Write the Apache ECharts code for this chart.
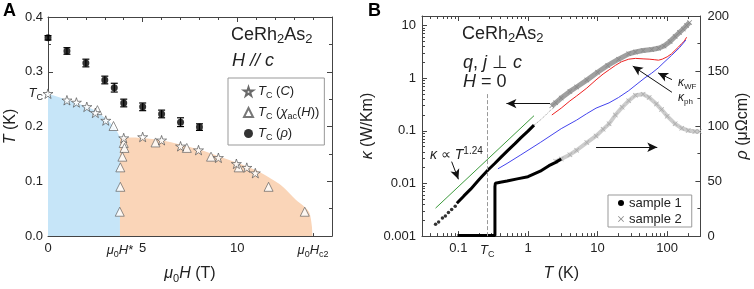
<!DOCTYPE html>
<html>
<head>
<meta charset="utf-8">
<script src="https://cdn.jsdelivr.net/npm/echarts@6/dist/echarts.min.js"></script>
<style>
  html, body { margin: 0; padding: 0; background: #fff; }
  #chart { width: 754px; height: 289px; }
</style>
</head>
<body>
<div id="chart"></div>
<script>
var FONT = '"Liberation Sans", Arial, Helvetica, sans-serif';
var INK = '#222';
var AXC = '#444';

// ---------- panel A : H-T phase diagram ----------
var fieldRho = [0, 1, 2, 3, 3.5, 4, 5, 6, 7, 8];
var tcRho = [0.362, 0.338, 0.316, 0.285, 0.271, 0.243, 0.236, 0.223, 0.208, 0.199];
var tcRhoErr = [0.004, 0.006, 0.007, 0.007, 0.008, 0.007, 0.007, 0.007, 0.008, 0.006];

var fieldC = [0, 1, 1.5, 2.05, 2.5, 3.05, 4.0, 5.0, 6.0, 7.0, 7.95, 9.0, 9.95, 10.5, 10.95];
var tcC = [0.26, 0.248, 0.244, 0.236, 0.225, 0.211, 0.179, 0.181, 0.175, 0.164, 0.157, 0.143, 0.132, 0.125, 0.115];

var fieldChi = [2.61, 3.46, 4.0, 4.04, 3.93, 3.82, 3.82, 3.79, 5.68, 7.33, 8.61, 10.07, 11.65, 13.56];
var tcChi = [0.230, 0.201, 0.170, 0.161, 0.145, 0.1255, 0.090, 0.0445, 0.171, 0.161, 0.145, 0.1255, 0.090, 0.0445];

var sc1Field = [0, 1, 2, 2.6, 3.1, 3.5, 3.8];
var sc1Top = [0.26, 0.249, 0.237, 0.227, 0.213, 0.199, 0.181];
var sc2Field = [3.8, 4.5, 5, 6, 7, 8, 9, 10, 11, 12, 12.4, 13.1, 13.5, 13.8, 13.93, 13.97];
var sc2Top = [0.179, 0.18, 0.179, 0.175, 0.167, 0.158, 0.146, 0.134, 0.12, 0.1, 0.09, 0.066, 0.055, 0.043, 0.02, 0];

var fieldLabelsA = [0, 3.8, 5, 10, 14];
var tempLabelsA = [0, 0.1, 0.2, 0.26, 0.3, 0.4];

// ---------- panel B : thermal conductivity & resistivity ----------
var s1DotsT = [0.047, 0.052, 0.059, 0.065, 0.072, 0.080, 0.090];
var s1DotsK = [0.00168, 0.00186, 0.0022, 0.0024, 0.0028, 0.0032, 0.0037];
var s1T = [0.095, 0.12, 0.15, 0.2, 0.266, 0.33, 0.41, 0.51, 0.65, 0.8, 1.0, 1.22];
var s1K = [0.0042, 0.0058, 0.0078, 0.012, 0.018, 0.0237, 0.0316, 0.042, 0.057, 0.075, 0.099, 0.128];
var s1TailT = [1.22, 1.5, 1.8, 2.1, 2.46];
var s1TailK = [0.128, 0.16, 0.2, 0.245, 0.29];

var s2T = [2.2, 2.5, 3, 4, 5, 7, 10, 14, 20, 28, 35, 45, 60, 75, 90, 110, 130, 150, 170, 190, 210];
var s2K = [0.3, 0.34, 0.42, 0.56, 0.68, 0.92, 1.3, 1.75, 2.3, 2.9, 3.15, 3.35, 3.5, 3.7, 4.1, 5.0, 6.2, 7.4, 8.6, 10, 11.5];

var phT = [2.2, 3, 4, 5, 7, 9.5, 12, 14.7, 18, 22, 28, 35, 45, 55, 65, 75, 85, 100, 115, 130, 145, 160, 175, 190];
var phK = [0.2, 0.27, 0.37, 0.46, 0.65, 0.93, 1.2, 1.45, 1.75, 2.05, 2.3, 2.38, 2.33, 2.3, 2.25, 2.2, 2.3, 2.55, 2.9, 3.4, 3.9, 4.5, 5.0, 6.0];

var wfT = [0.37, 0.5, 0.79, 1.5, 3, 5, 6.9, 9.5, 14.6, 20, 28, 38, 48, 60, 74, 90, 115, 150, 185];
var wfK = [0.019, 0.024, 0.035, 0.06, 0.11, 0.16, 0.21, 0.27, 0.34, 0.43, 0.58, 0.8, 1.02, 1.25, 1.56, 2.0, 2.7, 3.8, 5.3];

var fitT = [0.047, 1.22];
var fitK = [0.0034, 0.194];

var rho1T = [0.097, 0.15, 0.2, 0.25, 0.3, 0.335, 0.335, 0.335, 0.34, 0.36, 0.4, 0.5, 0.7, 1.0, 1.5, 2.0, 2.5, 3.0];
var rho1 = [0.5, 0.5, 0.5, 0.5, 0.5, 0.5, 25, 45, 48, 48.5, 49, 50, 52, 54, 59, 64, 67, 70];
var rho2T = [2.5, 3, 4, 5, 7, 9.5, 12, 14.6, 18, 22.5, 28, 35, 45, 55, 70, 83, 100, 130, 162, 200, 250, 290];
var rho2 = [68, 70, 74, 78, 85, 91, 97, 102, 110, 117, 123, 128, 129, 126, 120, 115, 109, 102, 98, 96, 95, 95];

var tempLabelsB = [0.1, 0.26, 1, 10, 100];
var kappaLabels = [0.001, 0.01, 0.1, 1, 10];
var TC = 0.26;

function pairs(xs, ys) {
  return xs.map(function (x, i) { return [x, ys[i]]; });
}

function logMinors(lo, hi) {
  var out = [];
  for (var d = -4; d <= 3; d++) {
    for (var k = 2; k <= 9; k++) {
      var v = k * Math.pow(10, d);
      if (v > lo && v < hi) out.push(v);
    }
  }
  return out;
}

function mkRich(fs) {
  var sub = Math.round(fs * 0.7);
  return {
    i: { fontFamily: FONT, fontSize: fs, fontStyle: 'italic', lineHeight: fs + 4, color: INK },
    s: { fontFamily: FONT, fontSize: sub, lineHeight: sub, verticalAlign: 'bottom', color: INK },
    p: { fontFamily: FONT, fontSize: sub, lineHeight: sub, verticalAlign: 'top', color: INK }
  };
}

var STAR = 'path://M50,2 L61,36 L97,36 L68,57 L79,92 L50,71 L21,92 L32,57 L3,36 L39,36 Z';
var CROSS = 'path://M0,1 L1,0 L5,4 L9,0 L10,1 L6,5 L10,9 L9,10 L5,6 L1,10 L0,9 L4,5 Z';

var chart = echarts.init(document.getElementById('chart'));

var tickStyle = { color: AXC, width: 1 };
var labelStyle = { color: INK, fontSize: 13, fontFamily: FONT, rich: mkRich(13) };

function nameStyle(fs) {
  return { color: INK, fontSize: fs, fontFamily: FONT, lineHeight: fs + 4, rich: mkRich(fs) };
}

var logNames = { '0.001': '0.001', '0.01': '0.01', '0.1': '0.1', '1': '1', '10': '10', '100': '100' };

var option = {
  animation: false,
  backgroundColor: '#fff',
  textStyle: { fontFamily: FONT },
  grid: [
    { left: 48, top: 17, width: 284, height: 227 },
    { left: 422, top: 16, width: 283, height: 228 }
  ],
  xAxis: [
    { // A bottom
      type: 'value', gridIndex: 0, min: 0, max: 15, interval: 5, position: 'bottom',
      axisLine: { onZero: false, lineStyle: tickStyle },
      axisTick: { inside: true, length: 5, lineStyle: tickStyle },
      minorTick: { show: true, splitNumber: 5, length: 3, lineStyle: tickStyle },
      splitLine: { show: false },
      axisLabel: Object.assign({}, labelStyle, {
        customValues: fieldLabelsA, margin: 6,
        formatter: function (v) {
          if (Math.abs(v - 3.8) < 1e-6) return '{i|μ}{s|0}{i|H}*';
          if (Math.abs(v - 14) < 1e-6) return '{i|μ}{s|0}{i|H}{s|c2}';
          return String(v);
        }
      }),
      name: '{i|μ}{s|0}{i|H} (T)', nameLocation: 'middle', nameGap: 22, nameTextStyle: nameStyle(16)
    },
    { // A top
      type: 'value', gridIndex: 0, min: 0, max: 15, interval: 5, position: 'top',
      axisLine: { onZero: false, lineStyle: tickStyle },
      axisTick: { inside: true, length: 5, lineStyle: tickStyle },
      minorTick: { show: true, splitNumber: 5, length: 3, lineStyle: tickStyle },
      splitLine: { show: false }, axisLabel: { show: false }
    },
    { // B bottom
      type: 'log', logBase: 10, gridIndex: 1, min: 0.03, max: 300, position: 'bottom',
      axisLine: { onZero: false, lineStyle: tickStyle },
      axisTick: { inside: true, length: 5, lineStyle: tickStyle, customValues: [0.1, 1, 10, 100] },
      splitLine: { show: false },
      axisLabel: Object.assign({}, labelStyle, {
        customValues: tempLabelsB, margin: 6,
        formatter: function (v) {
          if (Math.abs(v - TC) < 1e-6) return '{i|T}{s|C}';
          return logNames[String(+v.toPrecision(3))] || String(v);
        }
      }),
      name: '{i|T} (K)', nameLocation: 'middle', nameGap: 22, nameTextStyle: nameStyle(16)
    },
    { // B bottom minor ticks
      type: 'log', logBase: 10, gridIndex: 1, min: 0.03, max: 300, position: 'bottom',
      axisLine: { show: false },
      axisTick: { inside: true, length: 3, lineStyle: tickStyle, customValues: logMinors(0.03, 300) },
      splitLine: { show: false }, axisLabel: { show: false }
    },
    { // B top
      type: 'log', logBase: 10, gridIndex: 1, min: 0.03, max: 300, position: 'top',
      axisLine: { onZero: false, lineStyle: tickStyle },
      axisTick: { inside: true, length: 5, lineStyle: tickStyle, customValues: [0.1, 1, 10, 100] },
      splitLine: { show: false }, axisLabel: { show: false }
    },
    { // B top minor ticks
      type: 'log', logBase: 10, gridIndex: 1, min: 0.03, max: 300, position: 'top',
      axisLine: { show: false },
      axisTick: { inside: true, length: 3, lineStyle: tickStyle, customValues: logMinors(0.03, 300) },
      splitLine: { show: false }, axisLabel: { show: false }
    }
  ],
  yAxis: [
    { // A left
      type: 'value', gridIndex: 0, min: 0, max: 0.4, interval: 0.1, position: 'left',
      axisLine: { onZero: false, lineStyle: tickStyle },
      axisTick: { inside: true, length: 5, lineStyle: tickStyle },
      minorTick: { show: true, splitNumber: 2, length: 3, lineStyle: tickStyle },
      splitLine: { show: false },
      axisLabel: Object.assign({}, labelStyle, {
        customValues: tempLabelsA, margin: 5,
        formatter: function (v) {
          if (Math.abs(v - 0.26) < 1e-6) return '{i|T}{s|C}';
          return v.toFixed(1);
        }
      }),
      name: '{i|T} (K)', nameLocation: 'middle', nameGap: 27, nameTextStyle: nameStyle(16)
    },
    { // A right
      type: 'value', gridIndex: 0, min: 0, max: 0.4, interval: 0.1, position: 'right',
      axisLine: { onZero: false, lineStyle: tickStyle },
      axisTick: { inside: true, length: 5, lineStyle: tickStyle },
      minorTick: { show: true, splitNumber: 2, length: 3, lineStyle: tickStyle },
      splitLine: { show: false }, axisLabel: { show: false }
    },
    { // B left kappa
      type: 'log', logBase: 10, gridIndex: 1, min: 0.001, max: 15.2, position: 'left',
      axisLine: { onZero: false, lineStyle: tickStyle },
      axisTick: { inside: true, length: 5, lineStyle: tickStyle, customValues: kappaLabels },
      splitLine: { show: false },
      axisLabel: Object.assign({}, labelStyle, {
        customValues: kappaLabels, margin: 6,
        formatter: function (v) { return logNames[String(+v.toPrecision(3))] || String(v); }
      }),
      name: '{i|κ} (W/Km)', nameLocation: 'middle', nameGap: 44, nameTextStyle: nameStyle(16)
    },
    { // B left minor ticks
      type: 'log', logBase: 10, gridIndex: 1, min: 0.001, max: 15.2, position: 'left',
      axisLine: { show: false },
      axisTick: { inside: true, length: 3, lineStyle: tickStyle, customValues: logMinors(0.001, 15.2) },
      splitLine: { show: false }, axisLabel: { show: false }
    },
    { // B right rho
      type: 'value', gridIndex: 1, min: 0, max: 200, interval: 50, position: 'right',
      axisLine: { onZero: false, lineStyle: tickStyle },
      axisTick: { inside: true, length: 5, lineStyle: tickStyle },
      minorTick: { show: true, splitNumber: 2, length: 3, lineStyle: tickStyle },
      splitLine: { show: false },
      axisLabel: Object.assign({}, labelStyle, { margin: 7 }),
      name: '{i|ρ} (μΩcm)', nameLocation: 'middle', nameGap: 32, nameRotate: 90, nameTextStyle: nameStyle(16)
    }
  ],
  legend: [
    {
      left: 228, top: 78, orient: 'vertical', itemGap: 4, itemWidth: 9, itemHeight: 9,
      padding: [5, 5, 3, 15], borderColor: '#999', borderWidth: 1, selectedMode: false,
      textStyle: { color: INK, fontSize: 13, fontFamily: FONT, lineHeight: 14, rich: mkRich(13) },
      data: [
        { name: 'tcC', icon: STAR },
        { name: 'tcChi', icon: 'triangle' },
        { name: 'tcRho', icon: 'circle' }
      ],
      formatter: function (n) {
        if (n === 'tcC') return '{i|T}{s|C} ({i|C})';
        if (n === 'tcChi') return '{i|T}{s|C} ({i|χ}{s|ac}({i|H}))';
        return '{i|T}{s|C} ({i|ρ})';
      }
    },
    {
      left: 608, top: 195, orient: 'vertical', itemGap: 2, itemWidth: 6, itemHeight: 6,
      padding: [1, 10, 1, 10], borderColor: '#999', borderWidth: 1, selectedMode: false,
      textStyle: { color: INK, fontSize: 13, fontFamily: FONT, lineHeight: 14 },
      data: [
        { name: 'sample 1', icon: 'circle', itemStyle: { color: '#000' } },
        { name: 'sample 2', icon: CROSS, itemStyle: { color: '#888' } }
      ]
    }
  ],
  graphic: [
    { type: 'text', x: 3, y: 2, style: { text: 'A', font: 'bold 18px ' + FONT, fill: '#000' } },
    { type: 'text', x: 368, y: 2, style: { text: 'B', font: 'bold 18px ' + FONT, fill: '#000' } },
    { type: 'text', x: 231, y: 35, style: { text: 'CeRh{s|2}As{s|2}', font: '18px ' + FONT, fill: INK, verticalAlign: 'middle', lineHeight: 22, rich: mkRich(18) } },
    { type: 'text', x: 232, y: 61, style: { text: 'H // c', font: 'italic 18px ' + FONT, fill: INK, verticalAlign: 'middle' } },
    { type: 'text', x: 83, y: 193, style: { text: 'SC1', font: '16px ' + FONT, fill: INK, align: 'center', verticalAlign: 'middle' } },
    { type: 'text', x: 191, y: 193, style: { text: 'SC2', font: '16px ' + FONT, fill: INK, align: 'center', verticalAlign: 'middle' } },
    { type: 'text', x: 462, y: 34, style: { text: 'CeRh{s|2}As{s|2}', font: '18px ' + FONT, fill: INK, verticalAlign: 'middle', lineHeight: 22, rich: mkRich(18) } },
    { type: 'text', x: 463, y: 63, style: { text: '{i|q}, {i|j} ⊥ {i|c}', font: '18px ' + FONT, fill: INK, verticalAlign: 'middle', lineHeight: 22, rich: mkRich(18) } },
    { type: 'text', x: 463, y: 82, style: { text: '{i|H} = 0', font: '18px ' + FONT, fill: INK, verticalAlign: 'middle', lineHeight: 22, rich: mkRich(18) } },
    { type: 'text', x: 430, y: 155, style: { text: '{i|κ} ∝ {i|T}{p|1.24}', font: '14px ' + FONT, fill: INK, verticalAlign: 'middle', lineHeight: 18, rich: mkRich(14) } },
    { type: 'text', x: 678, y: 83, style: { text: '{i|κ}{s|WF}', font: '12px ' + FONT, fill: INK, verticalAlign: 'middle', lineHeight: 16, rich: mkRich(12) } },
    { type: 'text', x: 678, y: 98, style: { text: '{i|κ}{s|ph}', font: '12px ' + FONT, fill: INK, verticalAlign: 'middle', lineHeight: 16, rich: mkRich(12) } }
  ],
  series: [
    // ---- panel A
    {
      name: 'SC1', type: 'line', xAxisIndex: 0, yAxisIndex: 0, data: pairs(sc1Field, sc1Top),
      smooth: 0.3, symbol: 'none', silent: true, z: 1,
      lineStyle: { width: 0 }, areaStyle: { color: '#c6e5f8', opacity: 1 }
    },
    {
      name: 'SC2', type: 'line', xAxisIndex: 0, yAxisIndex: 0, data: pairs(sc2Field, sc2Top),
      smooth: 0.3, symbol: 'none', silent: true, z: 1,
      lineStyle: { width: 0 }, areaStyle: { color: '#fad5b8', opacity: 1 }
    },
    {
      name: 'tcRhoErr', type: 'custom', xAxisIndex: 0, yAxisIndex: 0, z: 3,
      data: fieldRho.map(function (x, i) { return [x, tcRho[i], tcRhoErr[i]]; }),
      encode: { x: 0, y: 1 },
      renderItem: function (params, api) {
        var x = api.value(0), y = api.value(1), e = api.value(2);
        var top = api.coord([x, y + e]), bot = api.coord([x, y - e]);
        var w = 3.5;
        var st = { stroke: '#000', lineWidth: 1.2 };
        return {
          type: 'group', children: [
            { type: 'line', shape: { x1: top[0], y1: top[1], x2: bot[0], y2: bot[1] }, style: st },
            { type: 'line', shape: { x1: top[0] - w, y1: top[1], x2: top[0] + w, y2: top[1] }, style: st },
            { type: 'line', shape: { x1: bot[0] - w, y1: bot[1], x2: bot[0] + w, y2: bot[1] }, style: st }
          ]
        };
      }
    },
    {
      name: 'tcRho', type: 'scatter', xAxisIndex: 0, yAxisIndex: 0, z: 4,
      data: pairs(fieldRho, tcRho), symbol: 'circle', symbolSize: 7,
      itemStyle: { color: '#000' }
    },
    {
      name: 'tcChi', type: 'scatter', xAxisIndex: 0, yAxisIndex: 0, z: 4,
      data: pairs(fieldChi, tcChi), symbol: 'triangle', symbolSize: 9,
      itemStyle: { color: '#fff', borderColor: '#555', borderWidth: 0.8 }
    },
    {
      name: 'tcC', type: 'scatter', xAxisIndex: 0, yAxisIndex: 0, z: 5,
      data: pairs(fieldC, tcC), symbol: STAR, symbolSize: 10, symbolKeepAspect: true,
      itemStyle: { color: '#fff', borderColor: '#444', borderWidth: 0.8 }
    },
    // ---- panel B, resistivity (right axis)
    {
      name: 'sample 2', type: 'line', xAxisIndex: 2, yAxisIndex: 4, z: 2,
      data: pairs(rho2T, rho2), showSymbol: true, symbol: CROSS, symbolSize: 5,
      itemStyle: { color: '#aaa' },
      lineStyle: { color: 'rgba(170,170,170,0.6)', width: 4 },
      markLine: {
        silent: true, label: { show: false }, symbol: ['none', 'arrow'], symbolSize: [7, 10],
        lineStyle: { color: '#111', width: 1, type: 'solid' },
        data: [[{ coord: [9.5, 80.7] }, { coord: [72, 80.7] }]]
      }
    },
    {
      name: 'sample 1', type: 'line', xAxisIndex: 2, yAxisIndex: 4, z: 4,
      data: pairs(rho1T, rho1), showSymbol: false, symbol: 'circle',
      itemStyle: { color: '#000' }, lineStyle: { color: '#000', width: 3 }
    },
    // ---- panel B, thermal conductivity (left axis)
    {
      name: 'sample 2', type: 'line', xAxisIndex: 2, yAxisIndex: 2, z: 2,
      data: pairs(s2T, s2K), showSymbol: true, symbol: CROSS, symbolSize: 5,
      itemStyle: { color: '#888' },
      lineStyle: { color: 'rgba(120,120,120,0.7)', width: 5 }
    },
    {
      name: 'kappaPh', type: 'line', xAxisIndex: 2, yAxisIndex: 2, z: 3,
      data: pairs(phT, phK), showSymbol: false,
      lineStyle: { color: '#ee2222', width: 1 }
    },
    {
      name: 'kappaWF', type: 'line', xAxisIndex: 2, yAxisIndex: 2, z: 3,
      data: pairs(wfT, wfK), showSymbol: false,
      lineStyle: { color: '#4444ee', width: 1 }
    },
    {
      name: 'fit', type: 'line', xAxisIndex: 2, yAxisIndex: 2, z: 3,
      data: pairs(fitT, fitK), showSymbol: false,
      lineStyle: { color: '#3c9a3c', width: 1 }
    },
    {
      name: 'tail', type: 'line', xAxisIndex: 2, yAxisIndex: 2, z: 3,
      data: pairs(s1TailT, s1TailK), showSymbol: false,
      lineStyle: { color: '#999', width: 1, type: 'dotted' }
    },
    {
      name: 'sample 1', type: 'scatter', xAxisIndex: 2, yAxisIndex: 2, z: 4,
      data: pairs(s1DotsT, s1DotsK), symbol: 'circle', symbolSize: 3.5,
      itemStyle: { color: '#000' }
    },
    {
      name: 'sample 1', type: 'line', xAxisIndex: 2, yAxisIndex: 2, z: 4,
      data: pairs(s1T, s1K), showSymbol: false,
      itemStyle: { color: '#000' }, lineStyle: { color: '#000', width: 3 },
      markLine: {
        silent: true, label: { show: false }, symbol: ['none', 'arrow'], symbolSize: [7, 10],
        lineStyle: { color: '#111', width: 1, type: 'solid' },
        data: [
          [{ coord: [TC, 0.001], symbol: 'none', lineStyle: { color: '#999', type: 'dashed', width: 1 } }, { coord: [TC, 0.5], symbol: 'none' }],
          [{ coord: [2.07, 0.33] }, { coord: [0.49, 0.33] }],
          [{ coord: [0.08, 0.026] }, { coord: [0.1, 0.012] }],
          [{ coord: [117, 0.94] }, { coord: [74, 1.26] }],
          [{ coord: [117, 0.54] }, { coord: [32, 1.7] }]
        ]
      }
    }
  ]
};

chart.setOption(option);
</script>
</body>
</html>
